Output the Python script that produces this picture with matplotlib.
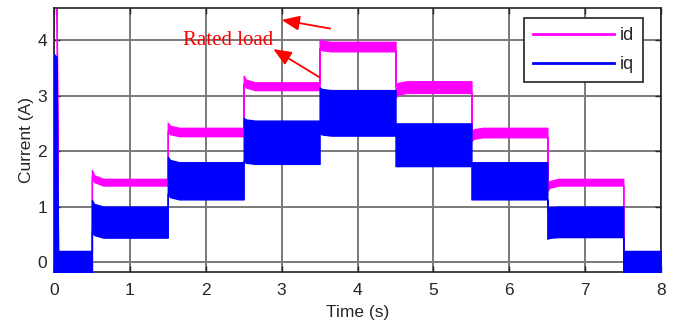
import matplotlib
matplotlib.use("Agg")
import matplotlib.pyplot as plt
from matplotlib.lines import Line2D

plt.rcParams["font.family"] = ["Liberation Sans", "DejaVu Sans"]

# Load steps: each segment runs from seg_start[i] to seg_end[i]
seg_start = [0.0, 0.5, 1.5, 2.5, 3.5, 4.5, 5.5, 6.5, 7.5]
seg_end = [0.5, 1.5, 2.5, 3.5, 4.5, 5.5, 6.5, 7.5, 8.0]

# Ripple envelope (min / max) of each current within a segment, in A
id_low = [-0.35, 1.38, 2.27, 3.10, 3.80, 3.05, 2.25, 1.38, -0.35]
id_high = [-0.25, 1.50, 2.42, 3.24, 3.97, 3.26, 2.42, 1.50, -0.25]
iq_low = [-0.30, 0.44, 1.13, 1.77, 2.28, 1.73, 1.13, 0.45, -0.30]
iq_high = [0.20, 1.00, 1.80, 2.55, 3.10, 2.50, 1.80, 1.00, 0.20]

# Overshoot / undershoot right after each load step, in A
id_step = [0.0, 0.16, 0.09, 0.12, 0.05, -0.08, -0.07, -0.10, 0.0]
iq_step = [0.0, 0.12, 0.10, 0.05, 0.05, 0.0, 0.0, -0.03, 0.0]

# Settling of the step transient: time after the step (s) and remaining share
settle_dt = [0.0, 0.03, 0.15]
settle_share = [1.0, 0.4, 0.0]

# Start-up spike at t = 0
startup_t = [0.0, 0.035, 0.055]
id_start_lo = [4.85, 4.85, -0.35]
id_start_hi = [4.95, 4.95, -0.25]
iq_start_lo = [-0.30, -0.30, -0.30]
iq_start_hi = [3.75, 3.70, 0.20]


def envelope(low, high, step, start_lo, start_hi):
    t, lo, hi = list(startup_t), list(start_lo), list(start_hi)
    t.append(seg_end[0]); lo.append(low[0]); hi.append(high[0])
    for i in range(1, len(seg_start)):
        a, b = seg_start[i], seg_end[i]
        for dt, share in zip(settle_dt, settle_share):
            t.append(a + dt)
            lo.append(low[i] + share * step[i])
            hi.append(high[i] + share * step[i])
        t.append(b); lo.append(low[i]); hi.append(high[i])
    return t, lo, hi


fig = plt.figure(figsize=(6.74, 3.35), dpi=100)
ax = fig.add_axes([0.080, 0.188, 0.901, 0.788])

c_id = "#ff00ff"
c_iq = "#0000ff"

t, lo, hi = envelope(id_low, id_high, id_step, id_start_lo, id_start_hi)
ax.fill_between(t, lo, hi, color=c_id, edgecolor=c_id, linewidth=1.0, zorder=2)
t, lo, hi = envelope(iq_low, iq_high, iq_step, iq_start_lo, iq_start_hi)
ax.fill_between(t, lo, hi, color=c_iq, edgecolor=c_iq, linewidth=1.0, zorder=3)

ax.set_xlim(0, 8)
ax.set_ylim(-0.18, 4.58)
ax.set_xticks(range(0, 9))
ax.set_yticks(range(0, 5))
ax.set_axisbelow(True)
ax.grid(True, color="#7a7a7a", linewidth=1.4)
ax.tick_params(direction="in", top=True, right=True, length=4, width=1.0,
               labelsize=12.5, colors="#262626")
ax.tick_params(axis="x", pad=8)
ax.tick_params(axis="y", pad=5)
for s in ax.spines.values():
    s.set_linewidth(1.2)
    s.set_color("#222222")

ax.set_xlabel("Time (s)", fontsize=12.5, labelpad=5, color="#262626")
ax.set_ylabel("Current (A)", fontsize=12.5, labelpad=2, color="#262626")

# Rated-load annotation
ax.text(1.70, 3.915, "Rated load", color="red", fontsize=15,
        family=["Liberation Serif", "DejaVu Serif"], va="baseline", zorder=5)
arrow = dict(arrowstyle="-|>,head_length=0.6,head_width=0.25", color="red",
             lw=1.3, mutation_scale=18, shrinkA=0, shrinkB=0)
ax.annotate("", xy=(3.00, 4.365), xytext=(3.64, 4.21), arrowprops=arrow, zorder=5)
ax.annotate("", xy=(2.89, 3.84), xytext=(3.50, 3.33), arrowprops=arrow, zorder=5)

handles = [Line2D([], [], color=c_id, lw=2.0), Line2D([], [], color=c_iq, lw=2.0)]
leg = ax.legend(handles, ["id", "iq"], loc="upper right",
                bbox_to_anchor=(0.970, 0.962), borderaxespad=0.0,
                prop={"size": 13}, handlelength=4.5, handletextpad=0.3,
                fancybox=False, framealpha=1, edgecolor="#222222",
                borderpad=0.5, labelspacing=0.65)
leg.get_frame().set_linewidth(1.2)
for txt in leg.get_texts():
    txt.set_color("#262626")

fig.savefig("out.png", dpi=100)
